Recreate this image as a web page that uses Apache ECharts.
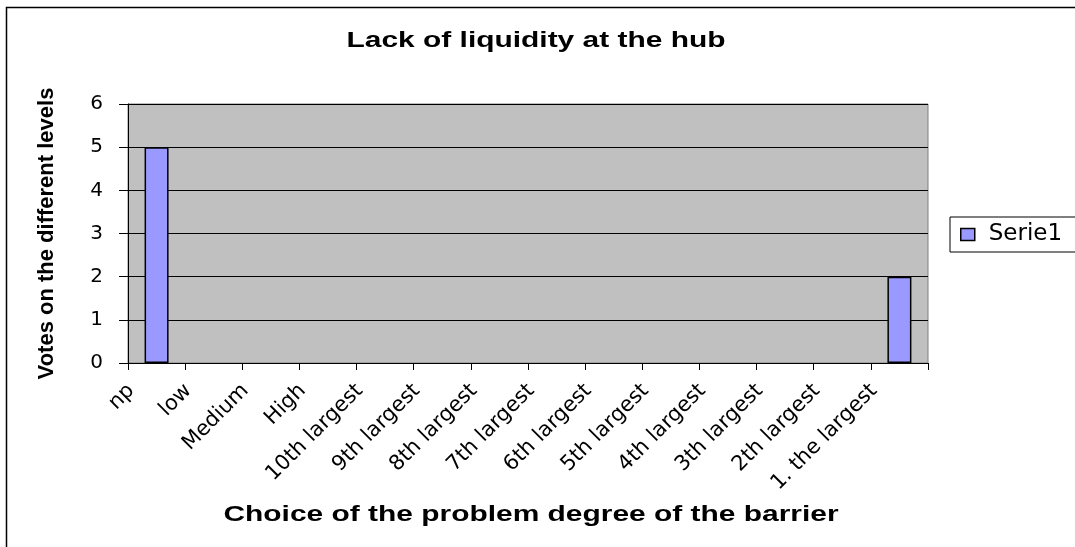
<!DOCTYPE html>
<html>
<head>
<meta charset="utf-8">
<script src="https://cdn.jsdelivr.net/npm/echarts@6/dist/echarts.min.js"></script>
<style>
  html, body { margin: 0; padding: 0; background: #fff; }
  #chart { width: 1075px; height: 547px; }
</style>
</head>
<body>
<div id="chart"></div>
<script>
// data
var categories = ['np', 'low', 'Medium', 'High', '10th largest', '9th largest', '8th largest',
  '7th largest', '6th largest', '5th largest', '4th largest', '3th largest', '2th largest', '1. the largest'];
var serie1 = [5, 0, 0, 0, 0, 0, 0, 0, 0, 0, 0, 0, 0, 2];
var yTicks = { min: 0, max: 6, interval: 1 };

var arial = 'Arial, "Liberation Sans", sans-serif';
var wide = '"DejaVu Sans", sans-serif';
var chart = echarts.init(document.getElementById('chart'));

// empty bars get no outline, so nothing is drawn over the axis
var barData = serie1.map(function (v) {
  return v === 0 ? { value: v, itemStyle: { borderWidth: 0 } } : v;
});

chart.setOption({
  animation: false,
  backgroundColor: '#fff',
  graphic: [{
    type: 'rect', silent: true,
    shape: { x: 6.5, y: 7.5, width: 1200, height: 700 },
    style: { fill: 'none', stroke: '#000', lineWidth: 1.5 }
  }, {
    // chart title, drawn wide like the original
    type: 'text', silent: true,
    x: 536, y: 41, scaleX: 1.36,
    style: {
      text: 'Lack of liquidity at the hub',
      font: 'bold 22px ' + arial, fill: '#000',
      align: 'center', verticalAlign: 'middle'
    }
  }, {
    // x axis title
    type: 'text', silent: true,
    x: 531, y: 515, scaleX: 1.36,
    style: {
      text: 'Choice of the problem degree of the barrier',
      font: 'bold 22px ' + arial, fill: '#000',
      align: 'center', verticalAlign: 'middle'
    }
  }],
  legend: {
    left: 950, top: 217,
    padding: [6, 40, 6, 10],
    borderColor: '#000', borderWidth: 1,
    itemWidth: 14, itemHeight: 12,
    icon: 'rect',
    itemStyle: { borderColor: '#000', borderWidth: 1.5 },
    textStyle: { fontFamily: wide, fontSize: 23, color: '#000', padding: [0, 0, 0, 9] }
  },
  grid: {
    left: 128, right: 147, top: 104, bottom: 184,
    show: true, backgroundColor: '#c0c0c0', borderColor: '#808080', borderWidth: 1
  },
  xAxis: {
    type: 'category',
    data: categories,
    axisLine: { lineStyle: { color: '#000', width: 1 } },
    axisTick: { show: true, length: 7, lineStyle: { color: '#000' } },
    axisLabel: {
      interval: 0, rotate: 45, margin: -1,
      padding: [0, 36, 0, 0],
      fontFamily: wide, fontSize: 21, color: '#000'
    }
  },
  yAxis: {
    type: 'value',
    min: yTicks.min, max: yTicks.max, interval: yTicks.interval,
    name: 'Votes on the different levels',
    nameLocation: 'middle', nameGap: 70, nameRotate: 90,
    nameTextStyle: { fontFamily: arial, fontSize: 22, fontWeight: 'bold', color: '#000' },
    axisLine: { show: true, lineStyle: { color: '#000', width: 1 } },
    axisTick: { show: true, length: 9, lineStyle: { color: '#000' } },
    axisLabel: { margin: 25, fontFamily: wide, fontSize: 20, color: '#000' },
    splitLine: { lineStyle: { color: '#000', width: 1 } }
  },
  series: [{
    name: 'Serie1',
    type: 'bar',
    data: barData,
    barWidth: 24,
    itemStyle: { color: '#9999ff', borderColor: '#000', borderWidth: 1.5 }
  }]
});
</script>
</body>
</html>
